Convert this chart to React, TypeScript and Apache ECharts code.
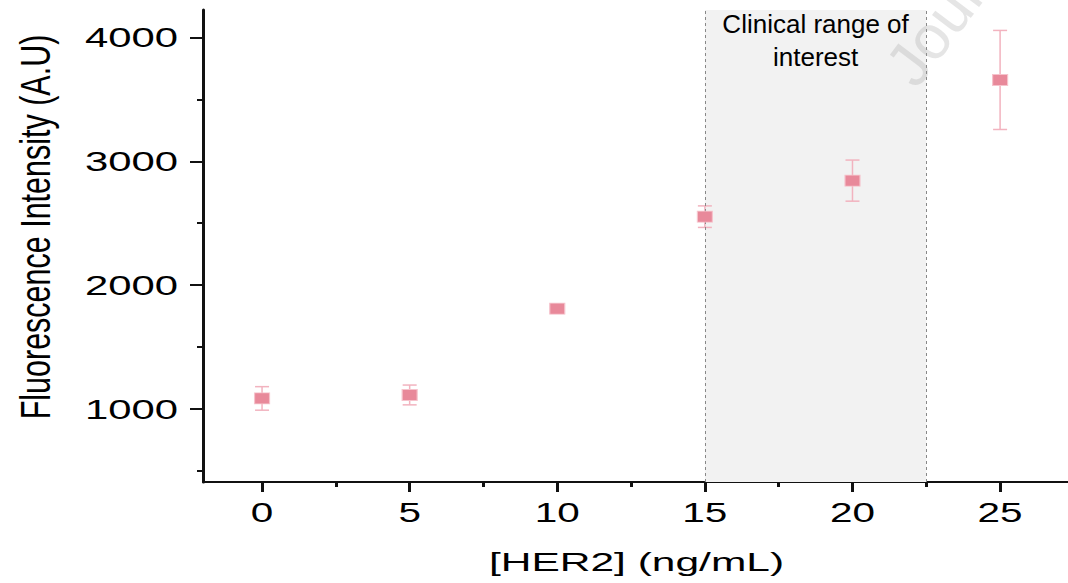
import React, { useEffect, useRef } from "react";
import * as echarts from "echarts";

// ---- data ----
const xValues = [0, 5, 10, 15, 20, 25];
const yMeans = [1085, 1113, 1810, 2553, 2844, 3657];
const yErrors = [95, 80, 20, 87, 166, 400];
const xTickValues = [0, 5, 10, 15, 20, 25];
const xTickLabels = ["0", "5", "10", "15", "20", "25"];
const xMinorTicks = [2.5, 7.5, 12.5, 17.5, 22.5];
const yTickValues = [1000, 2000, 3000, 4000];
const yTickLabels = ["1000", "2000", "3000", "4000"];
const yMinorTicks = [500, 1500, 2500, 3500];
const clinicalRange = [15, 22.5];
const clinicalLabel = "Clinical range of\ninterest";
const xTitle = "[HER2] (ng/mL)";
const yTitle = "Fluorescence Intensity (A.U)";
const watermark = "Journal Pre-proof";

const X_MIN = -2;
const X_MAX = 27.3;
const Y_MIN = 410;
const Y_MAX = 4222;

const FONT = '"Liberation Sans", Arial, sans-serif';
const AXIS_COLOR = "#111";

export default function App() {
  const ref = useRef<HTMLDivElement | null>(null);

  useEffect(() => {
    if (!ref.current) return;
    const chart = echarts.init(ref.current, undefined, { renderer: "svg" });

    const errData = xValues.map((x, i) => [
      x,
      yMeans[i],
      yMeans[i] - yErrors[i],
      yMeans[i] + yErrors[i],
    ]);
    const ptData = xValues.map((x, i) => [x, yMeans[i]]);

    const baseX = {
      type: "value",
      min: X_MIN,
      max: X_MAX,
      splitLine: { show: false },
      axisLabel: { show: false },
    };
    const baseY = {
      type: "value",
      min: Y_MIN,
      max: Y_MAX,
      splitLine: { show: false },
      axisLabel: { show: false },
    };

    const option: any = {
      animation: false,
      backgroundColor: "#ffffff",
      grid: { left: 203, right: 0, top: 10, bottom: 101, containLabel: false },
      xAxis: [
        {
          ...baseX,
          position: "bottom",
          axisLine: { show: true, onZero: false, lineStyle: { color: AXIS_COLOR, width: 2 } },
          axisTick: {
            show: true,
            customValues: xTickValues,
            length: 10,
            lineStyle: { color: AXIS_COLOR, width: 3 },
          },
        },
        {
          ...baseX,
          position: "bottom",
          axisLine: { show: false, onZero: false },
          axisTick: {
            show: true,
            customValues: xMinorTicks,
            length: 5,
            lineStyle: { color: AXIS_COLOR, width: 3 },
          },
        },
      ],
      yAxis: [
        {
          ...baseY,
          position: "left",
          axisLine: { show: true, onZero: false, lineStyle: { color: AXIS_COLOR, width: 3 } },
          axisTick: {
            show: true,
            customValues: yTickValues,
            length: 13,
            lineStyle: { color: AXIS_COLOR, width: 2 },
          },
        },
        {
          ...baseY,
          position: "left",
          axisLine: { show: false, onZero: false },
          axisTick: {
            show: true,
            customValues: yMinorTicks,
            length: 6,
            lineStyle: { color: AXIS_COLOR, width: 2 },
          },
        },
      ],
      series: [
        {
          type: "custom",
          name: "error",
          xAxisIndex: 0,
          yAxisIndex: 0,
          data: errData,
          encode: { x: 0, y: [1, 2, 3] },
          z: 3,
          renderItem: (params: any, api: any) => {
            const x = api.value(0);
            const lo = api.coord([x, api.value(2)]);
            const hi = api.coord([x, api.value(3)]);
            const half = 7;
            const style = { stroke: "#f2b3bf", lineWidth: 1.5, fill: "none" };
            return {
              type: "group",
              children: [
                { type: "line", shape: { x1: hi[0], y1: hi[1], x2: lo[0], y2: lo[1] }, style },
                { type: "line", shape: { x1: hi[0] - half, y1: hi[1], x2: hi[0] + half, y2: hi[1] }, style },
                { type: "line", shape: { x1: lo[0] - half, y1: lo[1], x2: lo[0] + half, y2: lo[1] }, style },
              ],
            };
          },
          markArea: {
            silent: true,
            itemStyle: { color: "#f2f2f2" },
            label: {
              show: true,
              position: "insideTop",
              distance: 0,
              offset: [0, -3],
              formatter: clinicalLabel,
              fontSize: 26,
              lineHeight: 33,
              fontFamily: FONT,
              color: "#000",
            },
            data: [[{ xAxis: clinicalRange[0] }, { xAxis: clinicalRange[1] }]],
          },
          markLine: {
            silent: true,
            symbol: "none",
            label: { show: false },
            lineStyle: { color: "#888", width: 1, type: [3, 3] },
            data: [{ xAxis: clinicalRange[0] }, { xAxis: clinicalRange[1] }],
          },
        },
        {
          type: "scatter",
          name: "mean",
          xAxisIndex: 0,
          yAxisIndex: 0,
          data: ptData,
          symbol: "rect",
          symbolSize: [15, 11],
          z: 5,
          itemStyle: { color: "#e8899a", borderColor: "#f6c3cc", borderWidth: 1, opacity: 1 },
        },
      ],
    };

    chart.setOption(option);

    const px = (v: number) => chart.convertToPixel({ xAxisIndex: 0 }, v) as number;
    const py = (v: number) => chart.convertToPixel({ yAxisIndex: 0 }, v) as number;
    const gridLeft = px(X_MIN);
    const gridBottom = py(Y_MIN);
    const gridTop = py(Y_MAX);

    const textStyle = (text: string, size: number, align: string, vAlign: string, fill = "#000") => ({
      text,
      fontSize: size,
      fontFamily: FONT,
      fill,
      align,
      verticalAlign: vAlign,
      textAlign: align,
      textVerticalAlign: vAlign,
    });

    const elements: any[] = [];
    yTickValues.forEach((v, i) => {
      elements.push({
        type: "text",
        x: gridLeft - 25,
        y: py(v),
        scaleX: 1.55,
        style: textStyle(yTickLabels[i], 27, "right", "middle"),
      });
    });
    xTickValues.forEach((v, i) => {
      elements.push({
        type: "text",
        x: px(v),
        y: gridBottom + 31,
        scaleX: 1.5,
        style: textStyle(xTickLabels[i], 27, "center", "middle"),
      });
    });
    elements.push({
      type: "text",
      x: (gridLeft + px(X_MAX)) / 2 + 1,
      y: gridBottom + 80,
      scaleX: 1.7,
      style: textStyle(xTitle, 25, "center", "middle"),
    });
    elements.push({
      type: "text",
      x: 35,
      y: (gridTop + gridBottom) / 2 - 19,
      rotation: Math.PI / 2,
      scaleY: 1.4,
      style: textStyle(yTitle, 30.5, "center", "middle"),
    });
    elements.push({
      type: "text",
      x: 924,
      y: 96,
      z: 100,
      rotation: (53 * Math.PI) / 180,
      silent: true,
      style: textStyle(watermark, 62, "left", "bottom", "rgba(150,150,150,0.25)"),
    });

    chart.setOption({ graphic: { elements } });

    return () => {
      chart.dispose();
    };
  }, []);

  return (
    <div
      ref={ref}
      style={{ position: "absolute", left: 0, top: 0, width: 1068, height: 583, background: "#fff" }}
    />
  );
}
